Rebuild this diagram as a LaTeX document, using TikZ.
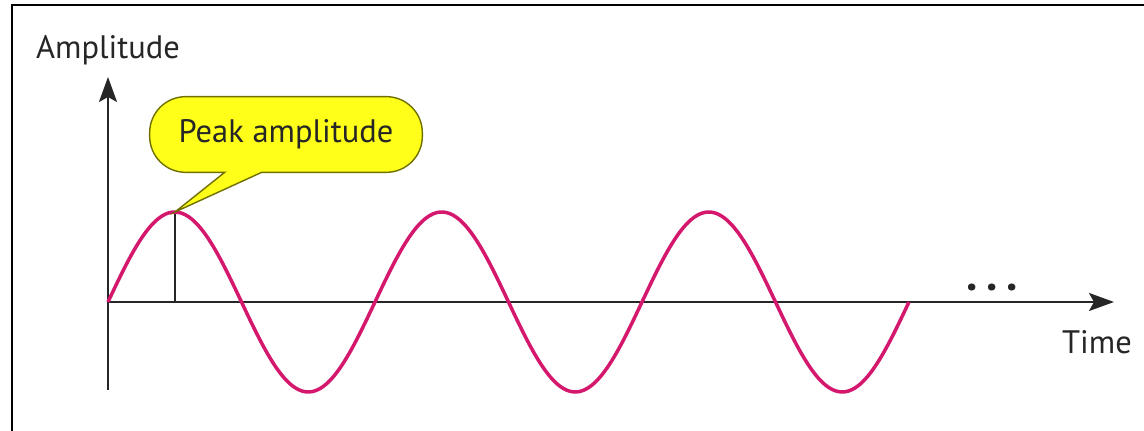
\documentclass[tikz,border=0pt]{standalone}
\usepackage{fontspec}
\setmainfont{PT Sans}
\usepackage{tikz}
\usetikzlibrary{arrows.meta, positioning}
\definecolor{waveMag}{HTML}{D4186E}
\definecolor{calloutYel}{HTML}{FFFF1A}
\definecolor{calloutEdge}{HTML}{707000}

\begin{document}
\begin{tikzpicture}[
  x=0.02cm, y=-0.02cm,
  axis/.style={line width=1.1pt, draw=black!85, -{Stealth[length=5mm, width=3.6mm, inset=1mm]}},
  wave/.style={line width=2pt, draw=waveMag},
  lbl/.style={font=\fontsize{18.5}{22}\selectfont, text=black!85, inner sep=0pt},
  bubble/.style={lbl, minimum width=5.44cm, minimum height=1.5cm},
  bubbleline/.style={fill=calloutYel, draw=calloutEdge, line width=0.8pt, rounded corners=0.72cm}
]
  \useasboundingbox (0,0) rectangle (1144,431);
  % frame
  \draw[line width=1.6pt] (12,431) -- (12,5) -- (1144,5);

  \coordinate (o) at (108,302);
  \coordinate (ybot) at (108,390);
  \coordinate (ytop) at (108,77);
  \coordinate (xend) at (1114,302);
  \coordinate (pk) at (175,212);
  \coordinate (pkfoot) at (175,302);

  \draw[axis] (ybot) -- (ytop);
  \draw[axis] (o) -- (xend);
  \draw[line width=1.1pt, black!85] (pkfoot) -- (pk);

  % three periods of the signal
  \draw[wave] plot[domain=0:1080, samples=240, smooth] ({108+\x*0.741667}, {302-90*sin(\x)});

  % callout with its tail on the peak
  \node[bubble] (peak) at (286,134.5) {};
  \draw[bubbleline] ([xshift=1.5cm]peak.south west) -- (peak.south west) -- (peak.north west)
    -- (peak.north east) -- (peak.south east) [sharp corners] -- ([xshift=2.24cm]peak.south west)
    -- (pk) -- cycle;
  \node[lbl] at (peak.center) {Peak amplitude};

  \node[lbl] (amp) at (108,50) {Amplitude};
  \node[lbl] (time) at (1097,342) {Time};
  \node[lbl, font=\fontsize{26}{26}\bfseries, anchor=base] (dots) at (992,291) {.\hspace{0.2em}.\hspace{0.2em}.};
\end{tikzpicture}
\end{document}
